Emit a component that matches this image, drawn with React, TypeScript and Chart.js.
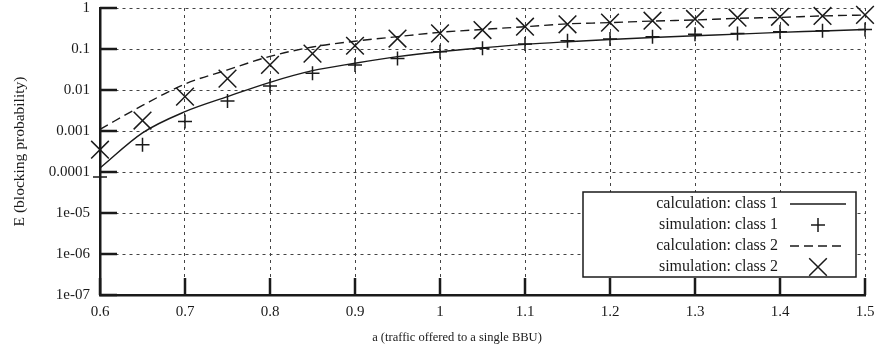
import React, { useEffect, useRef } from 'react';
import { Chart, registerables } from 'chart.js';

Chart.register(...registerables);

const TRAFFIC = [0.6, 0.65, 0.7, 0.75, 0.8, 0.85, 0.9, 0.95, 1.0, 1.05, 1.1, 1.15, 1.2, 1.25, 1.3, 1.35, 1.4, 1.45, 1.5];
const CALC_CLASS1 = [1.25e-4, 9e-4, 2.96e-3, 6.9e-3, 0.0154, 0.0296, 0.045, 0.065, 0.086, 0.107, 0.13, 0.15, 0.17, 0.19, 0.21, 0.23, 0.255, 0.275, 0.3];
const SIM_CLASS1 = [7.5e-5, 4.6e-4, 1.7e-3, 5.4e-3, 0.0125, 0.0255, 0.041, 0.059, 0.086, 0.104, 0.132, 0.16, 0.175, 0.2, 0.23, 0.24, 0.265, 0.28, 0.3];
const CALC_CLASS2 = [1.1e-3, 4.2e-3, 0.014, 0.031, 0.066, 0.112, 0.155, 0.2, 0.255, 0.3, 0.35, 0.41, 0.44, 0.48, 0.51, 0.56, 0.59, 0.64, 0.675];
const SIM_CLASS2 = [3.5e-4, 1.8e-3, 6.9e-3, 0.019, 0.041, 0.077, 0.12, 0.18, 0.24, 0.29, 0.35, 0.4, 0.44, 0.49, 0.54, 0.58, 0.61, 0.64, 0.68];

const SERIES_LABELS = ['calculation: class 1', 'simulation: class 1', 'calculation: class 2', 'simulation: class 2'];
const X_TICKS = [0.6, 0.7, 0.8, 0.9, 1.0, 1.1, 1.2, 1.3, 1.4, 1.5];
const Y_TICKS = [1, 0.1, 0.01, 0.001, 0.0001, 1e-5, 1e-6, 1e-7];
const Y_TICK_LABELS = ['1', '0.1', '0.01', '0.001', '0.0001', '1e-05', '1e-06', '1e-07'];
const X_TITLE = 'a (traffic offered to a single BBU)';
const Y_TITLE = 'E (blocking probability)';

const FONT = 'Liberation Serif';
const INK = '#1a1a1a';

const pts = (ys: number[]) => TRAFFIC.map((x, i) => ({ x, y: ys[i] }));

function drawMarker(ctx: CanvasRenderingContext2D, kind: string, x: number, y: number) {
  ctx.beginPath();
  if (kind === 'cross') {
    const r = 7;
    ctx.moveTo(x - r, y); ctx.lineTo(x + r, y);
    ctx.moveTo(x, y - r); ctx.lineTo(x, y + r);
  } else {
    const r = 8.8;
    ctx.moveTo(x - r, y - r); ctx.lineTo(x + r, y + r);
    ctx.moveTo(x - r, y + r); ctx.lineTo(x + r, y - r);
  }
  ctx.stroke();
}

const decorPlugin = {
  id: 'decor',
  afterDraw(chart: any) {
    const { ctx, chartArea: ca, scales } = chart;
    const xs = scales.x, ys = scales.y;
    ctx.save();
    // inward major tick marks
    ctx.strokeStyle = INK;
    ctx.lineWidth = 2.5;
    ctx.lineCap = 'butt';
    ctx.beginPath();
    Y_TICKS.forEach((t) => {
      const y = ys.getPixelForValue(t);
      ctx.moveTo(ca.left, y);
      ctx.lineTo(ca.left + 17, y);
    });
    X_TICKS.forEach((t) => {
      const x = xs.getPixelForValue(t);
      ctx.moveTo(x, ca.bottom);
      ctx.lineTo(x, ca.bottom - 17);
    });
    ctx.stroke();

    // legend box
    const bx1 = ca.right - 282, bx2 = ca.right - 9, by1 = ca.bottom - 103, by2 = ca.bottom - 18;
    ctx.fillStyle = '#fff';
    ctx.fillRect(bx1, by1, bx2 - bx1, by2 - by1);
    ctx.strokeStyle = INK;
    ctx.lineWidth = 1.5;
    ctx.strokeRect(bx1, by1, bx2 - bx1, by2 - by1);
    ctx.font = `16px "${FONT}"`;
    ctx.textAlign = 'right';
    ctx.textBaseline = 'middle';
    chart.data.datasets.forEach((ds: any, i: number) => {
      const y = by1 + 12 + i * 21;
      ctx.fillStyle = INK;
      ctx.fillText(ds.label, bx1 + 195, y);
      ctx.strokeStyle = INK;
      if (ds.showLine) {
        ctx.lineWidth = 1.4;
        ctx.setLineDash(ds.borderDash || []);
        ctx.beginPath();
        ctx.moveTo(bx1 + 207, y);
        ctx.lineTo(bx1 + 263, y);
        ctx.stroke();
        ctx.setLineDash([]);
      } else {
        ctx.lineWidth = 1.5;
        drawMarker(ctx, ds.pointStyle, bx1 + 235, y);
      }
    });

    // x-axis title
    ctx.fillStyle = INK;
    ctx.font = `12.5px "${FONT}"`;
    ctx.textAlign = 'center';
    ctx.textBaseline = 'middle';
    ctx.fillText(X_TITLE, 457, 338);
    ctx.restore();
  },
};

export default function App() {
  const ref = useRef<HTMLCanvasElement | null>(null);

  useEffect(() => {
    document.body.style.margin = '0';
    const canvas = ref.current;
    if (!canvas) return;
    const chart = new Chart(canvas, {
      type: 'scatter',
      data: {
        datasets: [
          {
            label: SERIES_LABELS[0],
            data: pts(CALC_CLASS1),
            showLine: true,
            borderColor: INK,
            borderWidth: 1.4,
            pointRadius: 0,
            cubicInterpolationMode: 'monotone',
            fill: false,
            clip: false,
          },
          {
            label: SERIES_LABELS[1],
            data: pts(SIM_CLASS1),
            showLine: false,
            pointStyle: 'cross',
            pointRadius: 7,
            borderColor: INK,
            borderWidth: 1.5,
            backgroundColor: INK,
            clip: false,
          },
          {
            label: SERIES_LABELS[2],
            data: pts(CALC_CLASS2),
            showLine: true,
            borderColor: INK,
            borderWidth: 1.4,
            borderDash: [9, 5],
            pointRadius: 0,
            cubicInterpolationMode: 'monotone',
            fill: false,
            clip: false,
          },
          {
            label: SERIES_LABELS[3],
            data: pts(SIM_CLASS2),
            showLine: false,
            pointStyle: 'crossRot',
            pointRadius: 12.5,
            borderColor: INK,
            borderWidth: 1.5,
            backgroundColor: INK,
            clip: false,
          },
        ],
      } as any,
      options: {
        animation: false,
        responsive: false,
        devicePixelRatio: 1,
        layout: { autoPadding: false, padding: { left: 0, right: 12, top: 8, bottom: 0 } },
        plugins: {
          legend: { display: false },
          tooltip: { enabled: false },
        },
        scales: {
          x: {
            type: 'linear',
            min: 0.6,
            max: 1.5,
            afterBuildTicks: (scale: any) => {
              scale.ticks = X_TICKS.map((v) => ({ value: v }));
            },
            afterFit: (scale: any) => {
              scale.height = 57;
              scale.paddingLeft = 0;
              scale.paddingRight = 0;
            },
            ticks: {
              color: INK,
              font: { family: FONT, size: 15 },
              padding: 8,
              maxRotation: 0,
              autoSkip: false,
              callback: (v: any) => String(Math.round(Number(v) * 10) / 10),
            },
            grid: { color: '#444', lineWidth: 1, drawTicks: false },
            border: { display: true, color: INK, width: 2.5, dash: [3, 4] },
            title: { display: false, text: X_TITLE },
          },
          y: {
            type: 'logarithmic',
            min: 1e-7,
            max: 1,
            afterBuildTicks: (scale: any) => {
              scale.ticks = Y_TICKS.slice().reverse().map((v) => ({ value: v, major: true }));
            },
            afterFit: (scale: any) => {
              scale.width = 100;
              scale.paddingTop = 0;
              scale.paddingBottom = 0;
            },
            ticks: {
              color: INK,
              font: { family: FONT, size: 15 },
              padding: 10,
              autoSkip: false,
              callback: (v: any) => {
                const idx = Y_TICKS.findIndex((t) => Math.abs(Math.log10(t) - Math.log10(Number(v))) < 1e-6);
                return idx >= 0 ? Y_TICK_LABELS[idx] : '';
              },
            },
            grid: { color: '#444', lineWidth: 1, drawTicks: false },
            border: { display: true, color: INK, width: 2.5, dash: [3, 4] },
            title: {
              display: true,
              text: Y_TITLE,
              color: INK,
              font: { family: FONT, size: 15.5 },
              padding: { top: 11, bottom: 0 },
            },
          },
        },
      } as any,
      plugins: [decorPlugin],
    });
    return () => chart.destroy();
  }, []);

  return (
    <div style={{ width: 877, height: 352, background: '#fff' }}>
      <canvas ref={ref} width={877} height={352} style={{ display: 'block' }} />
    </div>
  );
}
